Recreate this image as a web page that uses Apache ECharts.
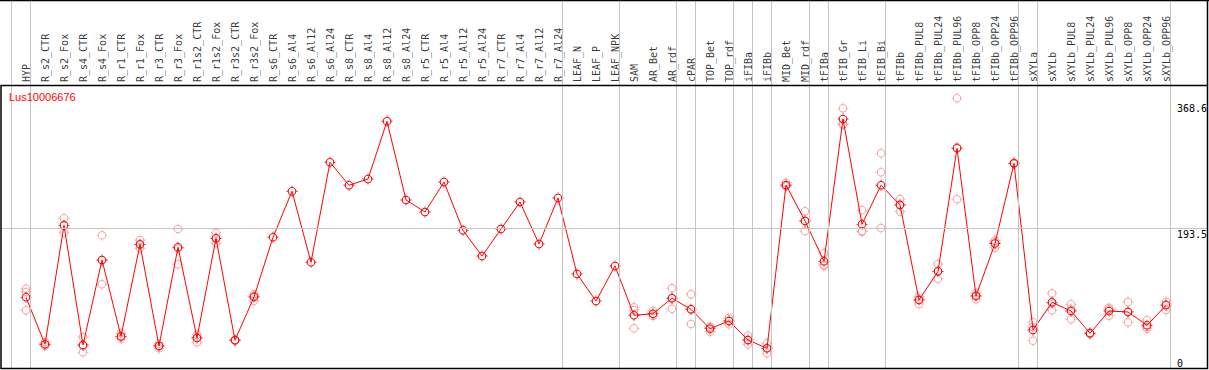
<!DOCTYPE html>
<html>
<head>
<meta charset="utf-8">
<script src="https://cdn.jsdelivr.net/npm/echarts@6/dist/echarts.min.js"></script>
<style>
html,body{margin:0;padding:0;background:#fff;}
#chart{width:1209px;height:370px;}
</style>
</head>
<body>
<div id="chart"></div>
<script>
const geneName = "Lus10006676";
const categories = ["HYP","R_s2_CTR","R_s2_Fox","R_s4_CTR","R_s4_Fox","R_r1_CTR","R_r1_Fox","R_r3_CTR","R_r3_Fox","R_r1s2_CTR","R_r1s2_Fox","R_r3s2_CTR","R_r3s2_Fox","R_s6_CTR","R_s6_Al4","R_s6_Al12","R_s6_Al24","R_s8_CTR","R_s8_Al4","R_s8_Al12","R_s8_Al24","R_r5_CTR","R_r5_Al4","R_r5_Al12","R_r5_Al24","R_r7_CTR","R_r7_Al4","R_r7_Al12","R_r7_Al24","LEAF_N","LEAF_P","LEAF_NPK","SAM","AR_Bet","AR_rdf","cPAR","TOP_Bet","TOP_rdf","iFIBa","iFIBb","MID_Bet","MID_rdf","tFIBa","tFIB_Gr","tFIB_Li","tFIB_Bi","tFIBb","tFIBb_PUL8","tFIBb_PUL24","tFIBb_PUL96","tFIBb_OPP8","tFIBb_OPP24","tFIBb_OPP96","sXYLa","sXYLb","sXYLb_PUL8","sXYLb_PUL24","sXYLb_PUL96","sXYLb_OPP8","sXYLb_OPP24","sXYLb_OPP96"];
const meanValues = [91.3,21.8,197.9,20.7,146.6,33.6,169.8,19.2,165.4,31.1,178.7,27.7,91.8,180.2,248.3,143.2,291.2,257.2,266.5,351.9,235.4,217.6,262.0,190.5,152.5,192.4,232.4,170.2,238.3,125.8,85.9,137.7,64.7,67.1,89.9,73.6,44.9,56.3,28.1,15.8,257.6,204.3,144.6,355.3,199.4,257.2,228.0,87.3,129.8,311.9,93.3,171.0,289.7,42.9,83.9,71.1,38.0,71.1,69.6,49.9,79.5];
const repA = [104.1,25.2,208.3,32.6,183.1,38.0,176.2,22.2,192.5,36.0,186.5,28.4,95.8,null,null,null,null,null,null,null,null,null,null,null,null,null,null,null,null,null,null,null,76.5,71.5,104.7,95.8,47.8,60.7,34.5,23.2,261.0,218.7,156.5,371.1,220.1,304.5,236.9,92.2,140.6,385.9,97.3,175.4,290.5,54.3,97.3,81.0,39.0,75.9,84.4,57.3,84.8];
const repB = [99.2,21.5,197.9,19.6,146.1,32.7,169.3,19.6,163.5,32.6,178.3,27.7,93.3,null,null,null,null,null,null,null,null,null,null,null,null,null,null,null,null,null,null,null,72.5,66.1,90.5,73.2,46.5,56.8,28.0,15.8,255.7,204.7,139.6,346.9,189.6,276.4,229.0,88.3,129.9,313.4,94.2,172.8,289.7,47.3,82.3,73.5,38.0,73.3,70.1,47.5,81.2];
const repC = [72.1,19.2,187.0,9.9,110.6,30.1,163.9,15.8,140.2,24.7,171.3,27.0,86.3,null,null,null,null,null,null,null,null,null,null,null,null,null,null,null,null,null,null,null,45.4,63.7,74.5,51.8,40.4,51.4,21.8,8.4,256.1,189.5,137.7,347.9,188.5,193.9,218.1,81.4,118.9,236.4,88.4,164.8,288.9,27.1,72.1,58.8,37.0,64.1,54.3,44.9,72.5];
const yTickLabels = [0, 193.5, 368.6];
const groupEnds = [-1, 0, 28, 31, 34, 35, 37, 38, 39, 41, 42, 45, 52, 53, 60];

// layout constants (pixels)
const W = 1209, H = 370;
const PLOT_TOP = 85, PLOT_BOTTOM = 368;
const LABEL_BASE_PX = 82;
const ZERO_PX = 359, PX_PER_UNIT = 0.6755;
const CAT_X0 = 26, CAT_STEP = 19;
const FULL_LEFT = 1, FULL_RIGHT = 1207;

const yMinA = (ZERO_PX - PLOT_BOTTOM) / PX_PER_UNIT;
const yMaxA = (ZERO_PX - PLOT_TOP) / PX_PER_UNIT;
const yMaxB = (ZERO_PX - 0) / PX_PER_UNIT;
const labelBaseValue = (ZERO_PX - LABEL_BASE_PX) / PX_PER_UNIT;
const gridLeftA = CAT_X0 - CAT_STEP / 2;
const gridRightA = W - (gridLeftA + CAT_STEP * categories.length);
const xMinB = (FULL_LEFT - CAT_X0) / CAT_STEP;
const xMaxB = (FULL_RIGHT - CAT_X0) / CAT_STEP;

const sym = 'path://M0,-10 A10,10 0 1,1 0,10 A10,10 0 1,1 0,-10 Z M0,-7.6 A7.6,7.6 0 1,0 0,7.6 A7.6,7.6 0 1,0 0,-7.6 Z M-1,-13 L1,-13 L1,-9 L-1,-9 Z M-1,9 L1,9 L1,13 L-1,13 Z M-13,-1 L-9,-1 L-9,1 L-13,1 Z M9,-1 L13,-1 L13,1 L9,1 Z';

function repData(arr){ return arr.map((v,i)=> v==null ? null : [i, v]).filter(d=>d); }

const chart = echarts.init(document.getElementById('chart'), null, {renderer:'svg'});
const monoFont = 'DejaVu Sans Mono';
const sepColor = '#c4c4c4';
const clear = 'rgba(255,255,255,0)';
const tickLabelOffsets = [[-29, -2], [-29, 0], [-29, -8]];

chart.setOption({
  animation: false,
  backgroundColor: '#fff',
  title: {
    text: geneName, left: 9, top: 91, padding: 0,
    textStyle: {color: '#ff0000', fontSize: 11, fontWeight: 'normal', fontFamily: 'Liberation Sans', lineHeight: 11}
  },
  grid: [
    {left: gridLeftA, right: gridRightA, top: PLOT_TOP, bottom: H - PLOT_BOTTOM},
    {left: FULL_LEFT, right: W - FULL_RIGHT, top: 0, bottom: H - PLOT_BOTTOM}
  ],
  xAxis: [
    {type: 'category', gridIndex: 0, data: categories, position: 'top', boundaryGap: true,
     axisLine: {show: false}, axisTick: {show: false}, splitLine: {show: false}, axisLabel: {show: false}},
    {type: 'value', gridIndex: 1, min: xMinB, max: xMaxB, show: false, splitLine: {show: false}}
  ],
  yAxis: [
    {type: 'value', gridIndex: 0, min: yMinA, max: yMaxA, show: false, splitLine: {show: false}},
    {type: 'value', gridIndex: 1, min: yMinA, max: yMaxB, show: false, splitLine: {show: false}}
  ],
  series: [
    {
      type: 'line', xAxisIndex: 1, yAxisIndex: 1, data: [], silent: true, z: 1,
      markLine: {
        silent: true, symbol: ['none','none'], animation: false,
        data: groupEnds.map(i => ({xAxis: i + 0.226, lineStyle: {color: sepColor, width: 1, type: 'solid'}, label: {show: false}}))
          .concat(yTickLabels.map((v, k) => ({
            yAxis: v,
            lineStyle: {color: k === 1 ? sepColor : clear, width: 1, type: 'solid'},
            label: {show: true, position: 'insideEndBottom', distance: [1, 1], formatter: String(v),
                    align: 'left', fontFamily: monoFont, fontSize: 10, color: '#000',
                    offset: tickLabelOffsets[k]}
          })))
      }
    },
    {
      // category names, anchored on the label band via grid B's scales
      type: 'scatter', xAxisIndex: 1, yAxisIndex: 1, symbol: 'circle', symbolSize: 1, silent: true, z: 4,
      itemStyle: {color: clear},
      data: categories.map((c, i) => ({value: [i, labelBaseValue], name: c})),
      label: {show: true, position: 'inside', rotate: 90, align: 'left', verticalAlign: 'middle',
              formatter: p => p.name, fontFamily: monoFont, fontSize: 10, color: '#000'},
      labelLayout: {hideOverlap: false}
    },
    {type: 'scatter', xAxisIndex: 0, yAxisIndex: 0, data: repData(repA), symbol: sym, symbolSize: 11,
     itemStyle: {color: '#f09090'}, z: 2},
    {type: 'scatter', xAxisIndex: 0, yAxisIndex: 0, data: repData(repB), symbol: sym, symbolSize: 11,
     itemStyle: {color: '#f09090'}, z: 2},
    {type: 'scatter', xAxisIndex: 0, yAxisIndex: 0, data: repData(repC), symbol: sym, symbolSize: 11,
     itemStyle: {color: '#f09090'}, z: 2},
    {type: 'line', xAxisIndex: 0, yAxisIndex: 0, data: meanValues, symbol: sym, symbolSize: 11,
     showAllSymbol: true, lineStyle: {color: '#ff0000', width: 1}, itemStyle: {color: '#ff0000'}, z: 3}
  ],
  graphic: [
    {type: 'line', shape: {x1: 0, y1: 0.5, x2: W, y2: 0.5}, style: {stroke: '#000', lineWidth: 1.5}, z: 10},
    {type: 'rect', shape: {x: 1, y: PLOT_TOP + 0.5, width: FULL_RIGHT - 1 + 0.5, height: PLOT_BOTTOM - PLOT_TOP}, style: {stroke: '#000', fill: 'none', lineWidth: 1.5}, z: 10},
    {type: 'line', shape: {x1: FULL_RIGHT + 0.5, y1: 0, x2: FULL_RIGHT + 0.5, y2: PLOT_TOP}, style: {stroke: '#000', lineWidth: 1.5}, z: 10}
  ]
});
</script>
</body>
</html>
